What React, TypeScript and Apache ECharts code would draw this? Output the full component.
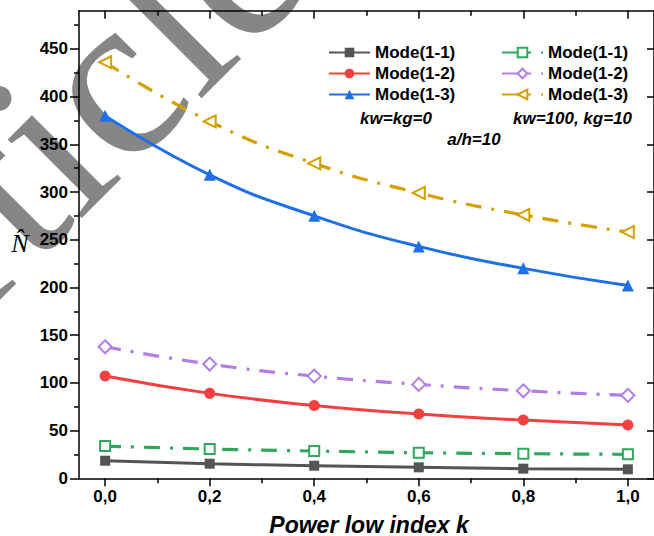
import React, { useEffect, useRef } from "react";
import * as echarts from "echarts";

// Power-law index k on the horizontal axis
const kValues = [0, 0.2, 0.4, 0.6, 0.8, 1.0];

// Frequency parameter N^ without foundation (kw = kg = 0)
const bareMode11 = [18.4, 15.3, 13.2, 11.5, 10.1, 9.4];
const bareMode12 = [107.1, 89.0, 76.4, 67.3, 61.0, 55.8];
const bareMode13 = [380, 318, 275, 243, 220, 202];

// Frequency parameter N^ on elastic foundation (kw = 100, kg = 10)
const foundMode11 = [33.8, 30.7, 28.6, 26.8, 25.8, 25.1];
const foundMode12 = [137.8, 119.7, 107.1, 98.4, 91.7, 86.9];
const foundMode13 = [436, 374, 330, 299, 276, 258];

const modeNames = ["Mode(1-1)", "Mode(1-2)", "Mode(1-3)"];
// the foundation group carries a trailing space so that both legends keep their own entries
const foundNames = modeNames.map((n) => n + " ");

const xMajorTicks = [0, 0.2, 0.4, 0.6, 0.8, 1.0];
const xMinorTicks = [0.1, 0.3, 0.5, 0.7, 0.9];
const yMajorTicks = [0, 50, 100, 150, 200, 250, 300, 350, 400, 450];
const yMinorTicks = [25, 75, 125, 175, 225, 275, 325, 375, 425, 475];

const SANS = '"Liberation Sans", Arial, sans-serif';
const SERIF = '"Liberation Serif", "Times New Roman", serif';
const DASH_DOT = [16, 10, 3, 10];

const pairs = (ys: number[]) => kValues.map((k, i) => [k, ys[i]]);

export default function App() {
  const ref = useRef<HTMLDivElement>(null);

  useEffect(() => {
    if (!ref.current) return;
    const chart = echarts.init(ref.current, null, { renderer: "svg" });

    const frame = { onZero: false, lineStyle: { color: "#000", width: 1.5 } };
    const tickStyle = { color: "#000", width: 1.5 };
    const xRange = { type: "value" as const, min: -0.05, max: 1.05, splitLine: { show: false } };
    const yRange = { type: "value" as const, min: 0, max: 490, splitLine: { show: false } };

    const solidSeries = (name: string, data: number[], color: string, symbol: string, size: number) => ({
      name,
      type: "line",
      data: pairs(data),
      smooth: true,
      symbol,
      symbolSize: size,
      lineStyle: { color, width: 3 },
      itemStyle: { color },
      z: 3,
    });

    const dashSeries = (
      name: string,
      data: number[],
      color: string,
      symbol: string,
      size: number,
      rotate = 0
    ) => ({
      name,
      type: "line",
      data: pairs(data),
      smooth: true,
      symbol,
      symbolSize: size,
      symbolRotate: rotate,
      lineStyle: { color, width: 3.2, type: DASH_DOT },
      itemStyle: { color, borderColor: color, borderWidth: 1.3 },
      z: 3,
    });

    const legendBase = {
      orient: "vertical" as const,
      top: 44,
      padding: 0,
      itemWidth: 41,
      itemHeight: 12,
      itemGap: 4,
      selectedMode: false,
      formatter: (n: string) => n.trim(),
      textStyle: { fontFamily: SANS, fontWeight: "bold", fontSize: 17, color: "#000" },
    };

    chart.setOption({
      animation: false,
      backgroundColor: "#fff",
      grid: { left: 79, top: 10.7, width: 579.3, height: 467.6, containLabel: false },
      legend: [
        { ...legendBase, left: 328, data: modeNames },
        { ...legendBase, left: 501, data: foundNames },
      ],
      xAxis: [
        {
          ...xRange,
          position: "bottom",
          axisLine: frame,
          axisTick: { inside: false, length: 8, lineStyle: tickStyle, customValues: xMajorTicks },
          axisLabel: {
            customValues: xMajorTicks,
            margin: 10,
            fontFamily: SANS,
            fontWeight: "bold",
            fontSize: 17,
            color: "#000",
            formatter: (v: number) => v.toFixed(1).replace(".", ","),
          },
        },
        {
          ...xRange,
          position: "bottom",
          axisLine: { show: false, onZero: false },
          axisTick: { inside: false, length: 5, lineStyle: tickStyle, customValues: xMinorTicks },
          axisLabel: { show: false },
        },
        {
          ...xRange,
          position: "top",
          axisLine: frame,
          axisTick: { inside: true, length: 8, lineStyle: tickStyle, customValues: xMajorTicks },
          axisLabel: { show: false },
        },
        {
          ...xRange,
          position: "top",
          axisLine: { show: false, onZero: false },
          axisTick: { inside: true, length: 5, lineStyle: tickStyle, customValues: xMinorTicks },
          axisLabel: { show: false },
        },
      ],
      yAxis: [
        {
          ...yRange,
          position: "left",
          axisLine: { show: true, ...frame },
          axisTick: { show: true, inside: false, length: 9, lineStyle: tickStyle, customValues: yMajorTicks },
          axisLabel: {
            customValues: yMajorTicks,
            margin: 11,
            fontFamily: SANS,
            fontWeight: "bold",
            fontSize: 17,
            color: "#000",
          },
        },
        {
          ...yRange,
          position: "left",
          axisLine: { show: false, onZero: false },
          axisTick: { show: true, inside: false, length: 5, lineStyle: tickStyle, customValues: yMinorTicks },
          axisLabel: { show: false },
        },
        {
          ...yRange,
          position: "right",
          axisLine: { show: true, ...frame },
          axisTick: { show: true, inside: true, length: 7, lineStyle: tickStyle, customValues: yMajorTicks },
          axisLabel: { show: false },
        },
      ],
      series: [
        solidSeries(modeNames[0], bareMode11, "#545454", "rect", 10),
        solidSeries(modeNames[1], bareMode12, "#f24040", "circle", 11),
        solidSeries(modeNames[2], bareMode13, "#1f70e6", "triangle", 12),
        dashSeries(foundNames[0], foundMode11, "#2fa85d", "emptyRect", 10),
        dashSeries(foundNames[1], foundMode12, "#b27ee6", "emptyDiamond", 13),
        dashSeries(foundNames[2], foundMode13, "#d4a000", "emptyTriangle", 12, 90),
      ],
      graphic: [
        {
          type: "text",
          silent: true,
          z: -10,
          x: -199,
          y: 387,
          rotation: Math.PI / 4,
          style: {
            text: "Article",
            font: `235px ${SERIF}`,
            fill: "#868686",
            textAlign: "left",
            textVerticalAlign: "middle",
          },
        },
        {
          type: "text",
          x: 20,
          y: 243,
          style: {
            text: "N\u0302",
            font: `italic 26px ${SERIF}`,
            fill: "#000",
            textAlign: "center",
            textVerticalAlign: "middle",
          },
        },
        {
          type: "text",
          x: 396,
          y: 118.5,
          style: {
            text: "kw=kg=0",
            font: `italic bold 17px ${SANS}`,
            fill: "#000",
            textAlign: "center",
            textVerticalAlign: "middle",
          },
        },
        {
          type: "text",
          x: 572.5,
          y: 118.5,
          style: {
            text: "kw=100, kg=10",
            font: `italic bold 17px ${SANS}`,
            fill: "#000",
            textAlign: "center",
            textVerticalAlign: "middle",
          },
        },
        {
          type: "text",
          x: 474,
          y: 139.5,
          style: {
            text: "a/h=10",
            font: `italic bold 17px ${SANS}`,
            fill: "#000",
            textAlign: "center",
            textVerticalAlign: "middle",
          },
        },
        {
          type: "text",
          x: 369,
          y: 524.5,
          style: {
            text: "Power low index k",
            font: `italic bold 23px ${SANS}`,
            fill: "#000",
            textAlign: "center",
            textVerticalAlign: "middle",
          },
        },
      ],
    });

    return () => chart.dispose();
  }, []);

  return (
    <div
      ref={ref}
      style={{ position: "fixed", left: 0, top: 0, width: 654, height: 536 }}
    />
  );
}
